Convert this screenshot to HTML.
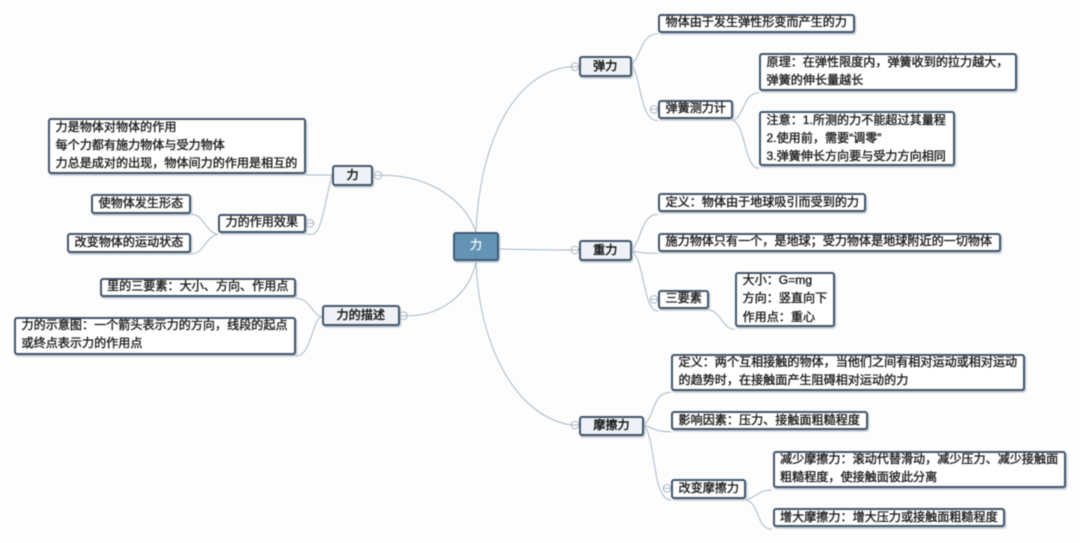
<!DOCTYPE html>
<html lang="zh"><head><meta charset="utf-8"><title>力</title>
<style>
html,body{margin:0;padding:0;background:#fdfdfd}
#c{position:relative;width:1080px;height:543px;overflow:hidden;background:#fdfdfd;font-family:"Liberation Sans","Noto Sans CJK SC",sans-serif;font-size:12.1px;color:#1a1a1a;-webkit-text-stroke:.35px #1a1a1a;filter:blur(.4px)}
svg{position:absolute;left:0;top:0}
.b{position:absolute;box-sizing:border-box;background:#fff;border:2px solid #43556a;border-radius:3px;box-shadow:1px 1.5px 1.5px #b4c0cc;padding:0 0 0 5.500px;line-height:18.300px;white-space:nowrap}
.b>span{display:block;position:relative;top:-2.500px}
.s{line-height:17px}
.s>span{top:-1.500px}
.m{background:#eef2f6;text-align:center;padding:0;line-height:17px;-webkit-text-stroke:.5px #1a1a1a}
.m>span{top:-.5px}
</style></head><body><div id="c">
<svg width="1080" height="543" fill="none" stroke="#a9b8c5" stroke-width="1">
<path d="M476 232C479 150 510 72 571 66.700"/>
<path d="M499 249C520 249.500 545 250 571 250"/>
<path d="M476 261C478 335 510 415 571 425"/>
<path d="M476 232C465 200 430 175.300 382 175.300"/>
<path d="M476 261C470 295 440 315.700 408 315.700"/>
<path d="M306 175H332"/>
<path d="M306 234.300H312C322 234 325 200 332 175"/>
<path d="M218 234.300C206 233 204 214.300 191 214.300"/>
<path d="M218 234.300C206 236 204 254 191 254"/>
<path d="M322 316.700C312 315 310 298.300 296 298.300"/>
<path d="M322 316.700C312 318 312 356 296 356"/>
<path d="M632 65C642 52 642 33.700 658 33.700"/>
<path d="M632 65C642 82 640 120.700 658 120.700"/>
<path d="M733 120.700C744 117 743 92.700 759 92.700"/>
<path d="M733 120.700C746 125 744 168.300 759 168.300"/>
<path d="M632 251C642 237 642 214.300 658 214.300"/>
<path d="M632 251C642 253 645 253.300 658 253.300"/>
<path d="M632 251C645 262 643 311 658 311"/>
<path d="M709 310C722 312 722 329.300 735 329.300"/>
<path d="M644 425C655 416 652 392.300 671 392.300"/>
<path d="M644 425C654 429 657 431.700 671 431.700"/>
<path d="M644 425C656 439 652 500 671 500"/>
<path d="M746 500C755 498 758 490 772 490"/>
<path d="M746 500C760 503 756 529.300 772 529.300"/>
<g fill="#fdfdfd" stroke="#a9b8c5">
<circle cx="378" cy="175.300" r="3.800"/><circle cx="310" cy="223.300" r="3.800"/><circle cx="403.500" cy="315.700" r="3.800"/>
<circle cx="575" cy="66.700" r="3.800"/><circle cx="654" cy="109.300" r="3.800"/><circle cx="575" cy="250" r="3.800"/><circle cx="654" cy="299.300" r="3.800"/>
<circle cx="575" cy="425" r="3.800"/><circle cx="667" cy="488.300" r="3.800"/>
</g>
<path d="M374 175.300h8M306 223.300h8M399.500 315.700h8M571 66.700h8M650 109.300h8M571 250h8M650 299.300h8M571 425h8M663 488.300h8"/>
</svg>

<div class="b" style="left:453px;top:231.700px;width:46px;height:29px;background:#6593b5;border-color:#3f5c78;color:#eef4f8;-webkit-text-stroke:.4px #eef4f8;text-align:center;padding:0;line-height:24px"><span style="top:-1px">力</span></div>

<div class="b m" style="left:332px;top:165px;width:41px;height:20.700px"><span>力</span></div>
<div class="b m" style="left:322px;top:305.300px;width:77.500px;height:20.700px"><span>力的描述</span></div>
<div class="b s" style="left:218px;top:213.700px;width:88px;height:19.500px"><span>力的作用效果</span></div>
<div class="b" style="left:48px;top:118px;width:258px;height:56px"><span>力是物体对物体的作用<br>每个力都有施力物体与受力物体<br>力总是成对的出现，物体间力的作用是相互的</span></div>
<div class="b s" style="left:91px;top:194px;width:100px;height:19.700px"><span>使物体发生形态</span></div>
<div class="b s" style="left:67px;top:233px;width:124px;height:19.700px"><span>改变物体的运动状态</span></div>
<div class="b s" style="left:99.500px;top:277.700px;width:196.500px;height:19.500px"><span>里的三要素：大小、方向、作用点</span></div>
<div class="b" style="left:14px;top:316.700px;width:282px;height:38px"><span>力的示意图：一个箭头表示力的方向，线段的起点<br>或终点表示力的作用点</span></div>

<div class="b m" style="left:579px;top:56px;width:52.500px;height:21px"><span>弹力</span></div>
<div class="b m" style="left:579px;top:240.300px;width:52.500px;height:21px"><span>重力</span></div>
<div class="b m" style="left:579px;top:415.700px;width:65px;height:20.300px"><span>摩擦力</span></div>

<div class="b s" style="left:658px;top:13.700px;width:197px;height:19.500px"><span>物体由于发生弹性形变而产生的力</span></div>
<div class="b s" style="left:658px;top:99.700px;width:75px;height:19.700px"><span>弹簧测力计</span></div>
<div class="b" style="left:759px;top:53.300px;width:258px;height:37.500px"><span>原理：在弹性限度内，弹簧收到的拉力越大，<br>弹簧的伸长量越长</span></div>
<div class="b" style="left:759px;top:111px;width:196px;height:55.300px"><span>注意：1.所测的力不能超过其量程<br>2.使用前，需要“调零”<br>3.弹簧伸长方向要与受力方向相同</span></div>
<div class="b s" style="left:658px;top:193px;width:208px;height:19.300px"><span>定义：物体由于地球吸引而受到的力</span></div>
<div class="b s" style="left:658px;top:232.700px;width:343px;height:19px"><span>施力物体只有一个，是地球；受力物体是地球附近的一切物体</span></div>
<div class="b s" style="left:658px;top:289.700px;width:51px;height:19.600px"><span>三要素</span></div>
<div class="b" style="left:735px;top:271.700px;width:99.500px;height:55.600px"><span>大小：G=mg<br>方向：竖直向下<br>作用点：重心</span></div>
<div class="b" style="left:671px;top:353.700px;width:354px;height:37px"><span>定义：两个互相接触的物体，当他们之间有相对运动或相对运动<br>的趋势时，在接触面产生阻碍相对运动的力</span></div>
<div class="b s" style="left:671px;top:411px;width:196.500px;height:19.300px"><span>影响因素：压力、接触面粗糙程度</span></div>
<div class="b s" style="left:671px;top:479px;width:74.500px;height:19.700px"><span>改变摩擦力</span></div>
<div class="b" style="left:772.500px;top:450.700px;width:293.500px;height:37.600px"><span>减少摩擦力：滚动代替滑动，减少压力、减少接触面<br>粗糙程度，使接触面彼此分离</span></div>
<div class="b s" style="left:772.500px;top:508px;width:232.500px;height:19.300px"><span>增大摩擦力：增大压力或接触面粗糙程度</span></div>
</div></body></html>
